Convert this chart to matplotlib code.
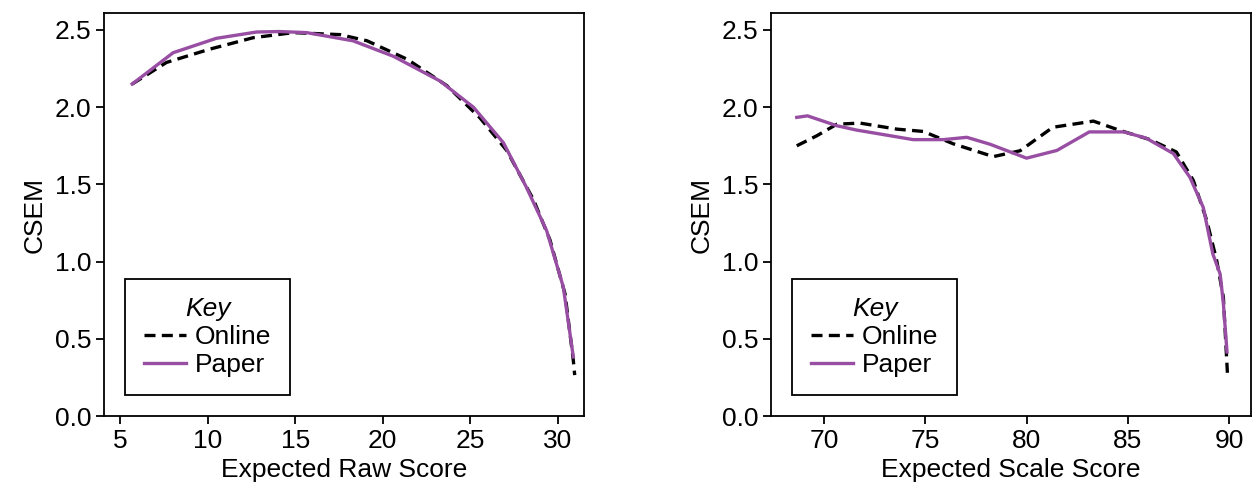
import matplotlib
matplotlib.use("Agg")
import matplotlib.pyplot as plt

plt.rcParams['font.family'] = ['Liberation Sans', 'DejaVu Sans']

# Left panel: expected raw score
raw_online_x = [5.7, 7.66, 10.1, 12.6, 14.9, 17.56, 19.1, 21.4, 23.65, 25.55, 27.07, 28.6, 29.54, 30.4, 30.87, 30.95]
raw_online_y = [2.15, 2.29, 2.375, 2.45, 2.483, 2.47, 2.43, 2.31, 2.14, 1.93, 1.72, 1.40, 1.14, 0.79, 0.36, 0.265]
raw_paper_x = [5.7, 8.04, 10.5, 12.8, 14.1, 15.66, 18.3, 20.6, 23.26, 25.17, 26.88, 28.2, 29.35, 30.3, 30.87]
raw_paper_y = [2.15, 2.353, 2.446, 2.487, 2.49, 2.483, 2.43, 2.33, 2.17, 2.0, 1.77, 1.48, 1.20, 0.835, 0.383]

# Right panel: expected scale score
scale_online_x = [68.65, 69.64, 70.63, 71.78, 73.59, 74.9, 76.4, 78.36, 79.68, 81.3, 83.3, 84.6, 86.1, 87.4,
                  88.24, 88.9, 89.39, 89.72, 89.92]
scale_online_y = [1.75, 1.815, 1.89, 1.897, 1.858, 1.843, 1.762, 1.68, 1.718, 1.87, 1.91, 1.85, 1.79, 1.71,
                  1.525, 1.266, 1.008, 0.77, 0.28]
scale_paper_x = [68.65, 69.18, 70.63, 71.6, 72.6, 74.4, 75.9, 77.05, 78.2, 80.0, 81.5, 82.3, 83.1, 84.8, 85.9,
                 87.25, 88.07, 88.73, 89.2, 89.56, 89.72, 89.9]
scale_paper_y = [1.934, 1.944, 1.88, 1.852, 1.83, 1.79, 1.79, 1.805, 1.76, 1.67, 1.72, 1.78, 1.84, 1.84, 1.80,
                 1.70, 1.546, 1.35, 1.05, 0.92, 0.73, 0.415]

PURPLE = '#984ea3'

fig = plt.figure(figsize=(12.57, 4.91), dpi=100)
ax_raw = fig.add_axes([0.0827, 0.1527, 0.3819, 0.8208])
ax_scale = fig.add_axes([0.6134, 0.1527, 0.3819, 0.8208])

panels = [
    (ax_raw, raw_online_x, raw_online_y, raw_paper_x, raw_paper_y, 'Expected Raw Score', (4.09, 31.48), [5, 10, 15, 20, 25, 30]),
    (ax_scale, scale_online_x, scale_online_y, scale_paper_x, scale_paper_y, 'Expected Scale Score', (67.38, 91.09), [70, 75, 80, 85, 90]),
]

for ax, ox, oy, px, py, xlabel, xlim, xticks in panels:
    ax.plot(ox, oy, color='black', linestyle=(0, (3.3, 1.9)), linewidth=2.4, label='Online')
    ax.plot(px, py, color=PURPLE, linewidth=2.4, label='Paper')
    ax.set_xlim(*xlim)
    ax.set_ylim(0, 2.61)
    ax.set_xticks(xticks)
    ax.set_yticks([0.0, 0.5, 1.0, 1.5, 2.0, 2.5])
    ax.set_yticklabels(['0.0', '0.5', '1.0', '1.5', '2.0', '2.5'])
    ax.tick_params(labelsize=19, length=6, width=1.3, direction='out', pad=3)
    ax.set_xlabel(xlabel, fontsize=19, labelpad=4)
    ax.set_ylabel('CSEM', fontsize=19, labelpad=6)
    for sp in ax.spines.values():
        sp.set_linewidth(1.3)
    leg = ax.legend(title='Key', loc='lower left', bbox_to_anchor=(0.044, 0.051), borderaxespad=0,
                    fontsize=19, frameon=True, fancybox=False, handlelength=1.6, handletextpad=0.35,
                    borderpad=0.7, labelspacing=0.15)
    leg.get_title().set_fontsize(19)
    leg.get_title().set_fontstyle('italic')
    leg.get_frame().set_edgecolor('black')
    leg.get_frame().set_linewidth(1.3)
    leg.get_frame().set_alpha(1)

fig.savefig('out.png', dpi=100)
